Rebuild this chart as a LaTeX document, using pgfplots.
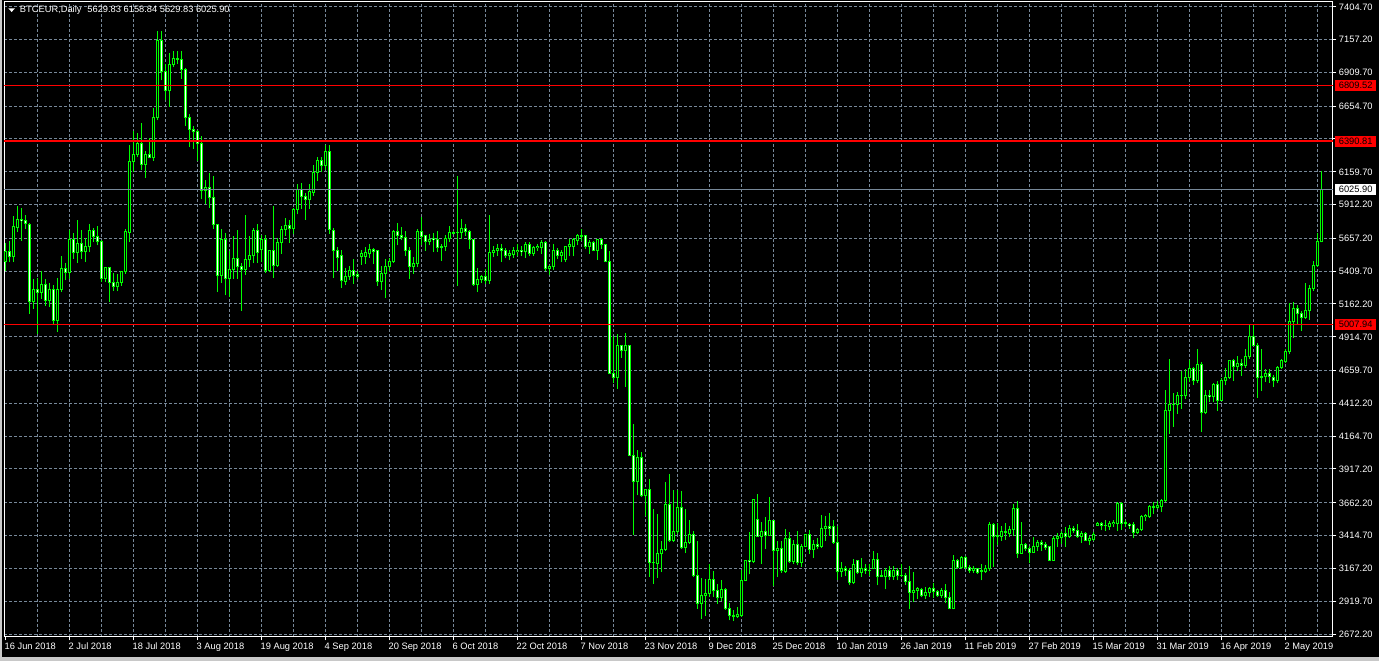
\documentclass[border=0pt]{standalone}
\usepackage{fontspec}
\setmainfont{Liberation Sans}
\usepackage{pgfplots}
\usepackage{pgfplotstable}
\usetikzlibrary{backgrounds}
\pgfplotsset{compat=1.18}
\definecolor{mtgreen}{RGB}{0,255,0}
\definecolor{mtgrid}{RGB}{119,136,153}
\definecolor{mtred}{RGB}{255,0,0}
\definecolor{mtframe}{RGB}{200,200,200}
\newcommand\mtfont{\fontsize{9.3}{11}\selectfont}
\pgfplotstableread{
d o h l c
0 5481 5619 5418 5556
1 5556 5632 5481 5519
2 5519 5821 5481 5743
3 5740 5896 5707 5800
4 5800 5883 5644 5790
5 5790 5833 5732 5768
6 5763 5770 5091 5179
7 5179 5343 5129 5272
8 5272 5355 4940 5250
9 5250 5406 5204 5310
10 5310 5343 5154 5189
11 5189 5318 5141 5272
12 5272 5305 5016 5038
13 5038 5355 4953 5272
14 5272 5519 5255 5431
15 5431 5468 5343 5400
16 5400 5720 5355 5650
17 5650 5695 5506 5549
18 5549 5788 5476 5619
19 5619 5720 5506 5556
20 5556 5657 5481 5594
21 5594 5763 5556 5715
22 5715 5732 5632 5670
23 5670 5745 5607 5632
24 5632 5644 5330 5355
25 5355 5436 5330 5436
26 5436 5436 5184 5325
27 5325 5393 5267 5292
28 5292 5385 5260 5325
29 5325 5406 5305 5406
30 5406 5727 5393 5707
31 5702 6361 5632 6235
32 6235 6462 6160 6291
33 6291 6449 6273 6374
34 6374 6525 6173 6215
35 6215 6316 6115 6291
36 6291 6412 6266 6266
37 6266 6633 6248 6567
38 6567 7216 6550 7148
39 7148 7216 6852 6915
40 6915 6970 6701 6769
41 6769 7053 6650 6970
42 6972 7065 6952 7015
43 7015 7065 6977 7008
44 7008 7065 6864 6932
45 6932 6940 6512 6570
46 6570 6588 6349 6479
47 6479 6500 6336 6462
48 6462 6474 6243 6369
49 6369 6429 5954 6017
50 6017 6092 5921 6039
51 6039 6143 5891 5966
52 5966 6127 5733 5763
53 5763 5763 5255 5380
54 5380 5725 5323 5652
55 5652 5690 5230 5355
56 5355 5557 5217 5423
57 5423 5670 5355 5506
58 5506 5720 5355 5448
59 5448 5468 5116 5423
60 5423 5826 5388 5499
61 5499 5670 5443 5524
62 5524 5733 5474 5720
63 5720 5758 5474 5549
64 5574 5682 5481 5645
65 5645 5675 5398 5418
66 5418 5569 5406 5569
67 5569 5901 5363 5456
68 5456 5657 5443 5629
69 5629 5750 5544 5725
70 5725 5808 5682 5755
71 5755 5795 5624 5730
72 5730 5883 5695 5876
73 5876 6065 5841 6027
74 6027 6072 5883 5971
75 5971 5992 5800 5951
76 5951 6067 5883 6009
77 6002 6210 5984 6155
78 6153 6268 6092 6248
79 6248 6268 6160 6205
80 6205 6361 6178 6316
81 6316 6354 5695 5725
82 5720 5733 5363 5564
83 5569 5589 5413 5514
84 5524 5569 5285 5338
85 5335 5431 5310 5373
86 5368 5448 5350 5411
87 5411 5494 5318 5380
88 5388 5406 5355 5368
89 5519 5569 5461 5539
90 5519 5589 5469 5549
91 5539 5614 5514 5574
92 5574 5582 5469 5557
93 5562 5569 5305 5330
94 5330 5443 5272 5393
95 5393 5494 5210 5448
96 5443 5506 5418 5486
97 5481 5720 5476 5712
98 5712 5770 5607 5675
99 5682 5740 5645 5662
100 5665 5707 5531 5564
101 5569 5589 5355 5443
102 5443 5514 5393 5469
103 5464 5725 5443 5712
104 5712 5816 5607 5670
105 5675 5682 5569 5632
106 5632 5687 5607 5652
107 5657 5695 5557 5645
108 5652 5707 5557 5587
109 5594 5607 5489 5587
110 5594 5682 5569 5657
111 5657 5745 5632 5700
112 5695 5712 5690 5702
113 5702 6127 5300 5700
114 5700 5801 5657 5733
115 5733 5758 5682 5707
116 5712 5720 5577 5650
117 5650 5652 5302 5310
118 5310 5431 5255 5348
119 5348 5380 5323 5368
120 5368 5423 5318 5338
121 5338 5826 5318 5551
122 5551 5594 5519 5569
123 5564 5607 5531 5582
124 5582 5614 5481 5564
125 5569 5577 5511 5526
126 5526 5564 5494 5544
127 5536 5589 5514 5562
128 5557 5607 5524 5569
129 5569 5594 5524 5557
130 5557 5627 5514 5614
131 5614 5624 5524 5544
132 5544 5599 5531 5589
133 5589 5607 5569 5599
134 5589 5640 5544 5627
135 5627 5632 5418 5426
136 5426 5456 5388 5443
137 5443 5607 5423 5569
138 5569 5577 5506 5531
139 5531 5569 5481 5547
140 5494 5599 5481 5599
141 5594 5650 5524 5607
142 5599 5657 5524 5645
143 5640 5687 5607 5675
144 5675 5725 5640 5670
145 5675 5677 5582 5599
146 5599 5640 5544 5624
147 5624 5630 5562 5569
148 5569 5650 5501 5645
149 5645 5657 5582 5607
150 5607 5607 5481 5481
151 5481 5557 4634 4639
152 4639 4920 4568 4609
153 4609 4928 4526 4850
154 4850 4852 4759 4810
155 4810 4940 4543 4850
156 4850 4850 4020 4020
157 4020 4256 3426 3821
158 3821 4055 3721 4005
159 4005 4040 3708 3716
160 3716 3763 3570 3763
161 3763 3839 3105 3210
162 3210 3608 3054 3215
163 3205 3577 3100 3276
164 3276 3369 3142 3311
165 3311 3814 3306 3653
166 3653 3879 3369 3376
167 3376 3758 3369 3449
168 3449 3753 3431 3628
169 3628 3751 3318 3326
170 3326 3608 3286 3364
171 3364 3532 3356 3426
172 3426 3444 3105 3112
173 3112 3369 2866 2903
174 2903 3092 2790 2966
175 2961 3084 2815 2979
176 2979 3193 2954 3084
177 3084 3142 2954 2999
178 3004 3042 2903 2946
179 2946 3074 2928 3009
180 3009 3017 2858 2866
181 2866 2903 2778 2810
182 2810 2853 2773 2803
183 2803 2873 2798 2823
184 2815 3155 2808 3079
185 3079 3230 3074 3230
186 3230 3437 3125 3218
187 3218 3688 3210 3688
188 3537 3728 3406 3411
189 3411 3512 3205 3444
190 3444 3552 3319 3419
191 3419 3703 3414 3532
192 3532 3532 3037 3301
193 3301 3369 3105 3318
194 3318 3369 3138 3155
195 3143 3464 3138 3394
196 3394 3439 3213 3223
197 3223 3381 3205 3349
198 3349 3449 3193 3213
199 3213 3349 3180 3336
200 3331 3424 3331 3424
201 3424 3452 3281 3311
202 3311 3374 3248 3349
203 3349 3394 3314 3331
204 3331 3563 3324 3469
205 3469 3558 3381 3485
206 3485 3583 3419 3469
207 3482 3525 3356 3364
208 3364 3482 3087 3143
209 3143 3213 3105 3168
210 3168 3180 3117 3148
211 3155 3163 3042 3060
212 3060 3231 3055 3193
213 3228 3228 3130 3135
214 3135 3243 3105 3165
215 3165 3198 3130 3148
216 3148 3193 3117 3155
217 3163 3293 3163 3238
218 3238 3276 3042 3105
219 3105 3155 3105 3112
220 3105 3168 3012 3148
221 3148 3180 3087 3105
222 3105 3185 3087 3148
223 3148 3163 3080 3112
224 3112 3198 3105 3117
225 3117 3130 3047 3067
226 3067 3180 2861 2987
227 2987 3138 2921 3004
228 3004 3022 2941 3012
229 3009 3017 2954 2961
230 2961 3024 2941 2987
231 2987 3022 2954 3017
232 3017 3055 2949 2992
233 2992 2997 2954 2966
234 2966 3012 2946 2997
235 2997 3042 2911 2946
236 2946 2987 2861 2866
237 2866 3261 2861 3226
238 3226 3238 3168 3173
239 3173 3256 3168 3251
240 3251 3256 3168 3173
241 3175 3188 3138 3148
242 3148 3185 3138 3168
243 3163 3168 3130 3138
244 3143 3200 3080 3148
245 3143 3188 3138 3168
246 3168 3515 3155 3495
247 3495 3507 3180 3407
248 3407 3507 3349 3414
249 3411 3487 3381 3444
250 3444 3507 3386 3437
251 3432 3482 3406 3462
252 3462 3653 3419 3620
253 3620 3673 3250 3281
254 3281 3517 3281 3351
255 3351 3356 3301 3318
256 3318 3331 3210 3286
257 3286 3401 3286 3336
258 3331 3381 3301 3361
259 3361 3381 3306 3344
260 3344 3361 3311 3326
261 3331 3336 3225 3230
262 3230 3406 3230 3394
263 3391 3432 3331 3406
264 3401 3444 3356 3432
265 3432 3474 3336 3406
266 3406 3494 3401 3469
267 3469 3482 3437 3452
268 3452 3502 3401 3411
269 3406 3444 3361 3432
270 3432 3437 3374 3376
271 3374 3411 3344 3394
272 3386 3437 3381 3424
273 3494 3512 3494 3507
274 3507 3512 3457 3494
275 3494 3532 3452 3489
276 3487 3520 3464 3507
277 3507 3527 3482 3517
278 3507 3663 3452 3658
279 3658 3663 3464 3507
280 3507 3532 3482 3512
281 3502 3507 3469 3494
282 3502 3512 3399 3437
283 3437 3469 3427 3462
284 3457 3570 3452 3562
285 3557 3572 3532 3565
286 3557 3640 3550 3633
287 3633 3663 3582 3628
288 3628 3670 3620 3638
289 3633 3688 3595 3683
290 3678 4513 3670 4362
291 4357 4744 4186 4407
292 4407 4488 4241 4400
293 4400 4495 4337 4473
294 4473 4649 4375 4468
295 4468 4664 4450 4608
296 4608 4739 4576 4676
297 4676 4684 4558 4588
298 4588 4820 4568 4702
299 4702 4719 4199 4342
300 4342 4508 4332 4473
301 4473 4513 4425 4463
302 4463 4563 4425 4551
303 4551 4576 4357 4432
304 4432 4601 4432 4588
305 4583 4676 4551 4608
306 4608 4739 4601 4739
307 4739 4744 4588 4689
308 4689 4764 4659 4714
309 4714 4744 4626 4699
310 4699 4815 4684 4769
311 4764 4996 4752 4920
312 4920 5003 4845 4852
313 4852 4865 4458 4608
314 4608 4815 4508 4613
315 4613 4669 4576 4634
316 4634 4669 4568 4613
317 4608 4626 4538 4583
318 4583 4694 4568 4684
319 4684 4744 4676 4732
320 4727 4820 4719 4807
321 4802 5162 4790 5028
322 5028 5172 4910 5129
323 5129 5147 5011 5091
324 5091 5104 4961 5061
325 5061 5313 5054 5111
326 5111 5305 5046 5280
327 5280 5481 5267 5451
328 5451 5695 5448 5630
329 5629.83 6158.84 5629.83 6025.90
}\candles
\gdef\wickpath{}\gdef\bodypath{}\gdef\bullpath{}\gdef\bearpath{}
\begin{document}
\begin{tikzpicture}[x=1pt,y=1pt]
\pgfplotstablegetrowsof{\candles}
\pgfmathtruncatemacro\nrows{\pgfplotsretval-1}
\foreach \i in {0,...,\nrows}{%
  \pgfplotstablegetelem{\i}{d}\of\candles \let\cd\pgfplotsretval
  \pgfplotstablegetelem{\i}{o}\of\candles \let\co\pgfplotsretval
  \pgfplotstablegetelem{\i}{h}\of\candles \let\ch\pgfplotsretval
  \pgfplotstablegetelem{\i}{l}\of\candles \let\cl\pgfplotsretval
  \pgfplotstablegetelem{\i}{c}\of\candles \let\cc\pgfplotsretval
  \pgfmathsetmacro\wlo{\cl-3.772}%
  \pgfmathsetmacro\whi{\ch+3.772}%
  \pgfmathsetmacro\blo{min(\co,\cc)-3.772}%
  \pgfmathsetmacro\bhi{max(\co,\cc)+3.772}%
  \pgfmathsetmacro\ilo{min(\co,\cc)+3.772}%
  \pgfmathsetmacro\ihi{max(\co,\cc)-3.772}%
  \pgfmathtruncatemacro\kind{(\ihi>\ilo) ? ((\cc>\co) ? 1 : 2) : 0}%
  \xdef\wickpath{\wickpath (\cd,\wlo) (\cd,\whi) (\cd,nan)}%
  \xdef\bodypath{\bodypath (\cd,\blo) (\cd,\bhi) (\cd,nan)}%
  \ifnum\kind=1 \xdef\bullpath{\bullpath (\cd,\ilo) (\cd,\ihi) (\cd,nan)}\fi
  \ifnum\kind=2 \xdef\bearpath{\bearpath (\cd,\ilo) (\cd,\ihi) (\cd,nan)}\fi
}
\begin{axis}[
  scale only axis,
  width=1329pt, height=635pt,
  xmin=-0.375, xmax=331.875, ymin=2649.7, ymax=7440.1,
  axis line style={white, line width=1pt},
  clip mode=individual,
  unbounded coords=jump,
  xtick={16,32,...,320},
  xticklabels={2 Jul 2018,18 Jul 2018,3 Aug 2018,19 Aug 2018,4 Sep 2018,20 Sep 2018,6 Oct 2018,22 Oct 2018,7 Nov 2018,23 Nov 2018,9 Dec 2018,25 Dec 2018,10 Jan 2019,26 Jan 2019,11 Feb 2019,27 Feb 2019,15 Mar 2019,31 Mar 2019,16 Apr 2019,2 May 2019},
  extra x ticks={0}, extra x tick labels={16 Jun 2018}, extra x tick style={grid=none},
  minor xtick={8,24,...,328},
  ytick={2672.2,2919.7,3167.2,3414.7,3662.2,3917.2,4164.7,4412.2,4659.7,4914.7,5162.2,5409.7,5657.2,5912.2,6159.7,6407.2,6654.7,6909.7,7157.2,7404.7},
  yticklabels={2672.20,2919.70,3167.20,3414.70,3662.20,3917.20,4164.70,4412.20,4659.70,4914.70,5162.20,5409.70,5657.20,5912.20,6159.70,{},6654.70,6909.70,7157.20,7404.70},
  xtick pos=bottom, ytick pos=right, yticklabel pos=right,
  tick align=outside, major tick length=3.5pt, minor tick length=0pt,
  tick style={white, line width=1pt},
  grid=both,
  major grid style={mtgrid, dash pattern=on 3pt off 2pt, line width=1pt},
  minor grid style={mtgrid, dash pattern=on 3pt off 2pt, line width=1pt},
  xticklabel style={anchor=north west, inner sep=0pt, text height=6.7pt, text depth=0pt, font=\mtfont, text=white, xshift=-1pt, yshift=-2.2pt},
  yticklabel style={anchor=west, inner sep=0pt, text height=6.7pt, text depth=0pt, font=\mtfont, text=white, xshift=2.3pt},
]
\edef\doplots{%
\noexpand\addplot[draw=mtgreen, line width=1pt, forget plot, mark=none] coordinates {\wickpath};
\noexpand\addplot[draw=mtgreen, line width=3pt, forget plot, mark=none] coordinates {\bodypath};
\noexpand\addplot[draw=black, line width=1pt, forget plot, mark=none] coordinates {\bullpath};
\noexpand\addplot[draw=white, line width=1pt, forget plot, mark=none] coordinates {\bearpath};
}
\doplots
\addplot[mtred, line width=1.4pt, forget plot] coordinates {(-5,6809.52) (340,6809.52)};
\addplot[mtred, line width=1.4pt, forget plot] coordinates {(-5,6390.81) (340,6390.81)};
\addplot[mtred, line width=1.2pt, forget plot] coordinates {(-5,5007.94) (340,5007.94)};
\addplot[mtgrid, line width=1pt, forget plot] coordinates {(-5,6025.90) (340,6025.90)};
\node[fill=mtred, text=black, font=\mtfont, inner sep=0pt, minimum width=41pt, minimum height=11pt, text height=6.7pt, text depth=0pt, anchor=west, xshift=2pt] at (axis cs:331.875,6809.52) {6809.52};
\node[fill=mtred, text=black, font=\mtfont, inner sep=0pt, minimum width=41pt, minimum height=11pt, text height=6.7pt, text depth=0pt, anchor=west, xshift=2pt] at (axis cs:331.875,6390.81) {6390.81};
\node[fill=mtred, text=black, font=\mtfont, inner sep=0pt, minimum width=41pt, minimum height=11pt, text height=6.7pt, text depth=0pt, anchor=west, xshift=2pt] at (axis cs:331.875,5007.94) {5007.94};
\node[fill=white, text=black, font=\mtfont, inner sep=0pt, minimum width=41pt, minimum height=11pt, text height=6.7pt, text depth=0pt, anchor=west, xshift=2pt] at (axis cs:331.875,6025.90) {6025.90};
\coordinate (axsw) at (rel axis cs:0,0);
\end{axis}
\coordinate (O) at ([shift={(-4,-24)}]axsw);
\begin{scope}[on background layer]
\begin{scope}[shift={(O)}]
\fill[black] (0,0) rectangle (1379,661);
\fill[mtframe] (0,0) rectangle (2.5,661);
\fill[mtframe] (0,0) rectangle (1379,3.5);
\end{scope}
\end{scope}
\begin{scope}[shift={(O)}]
\fill[white] (8.3,652.7) -- (15,652.7) -- (11.65,649) -- cycle;
\node[anchor=base west, inner sep=0pt, text=white, font=\mtfont] at (19.8,648.3) {BTCEUR,Daily\hspace{6pt}5629.83 6158.84 5629.83 6025.90};
\end{scope}
\pgfresetboundingbox
\useasboundingbox (O) rectangle ([shift={(1379,661)}]O);
\end{tikzpicture}
\end{document}
